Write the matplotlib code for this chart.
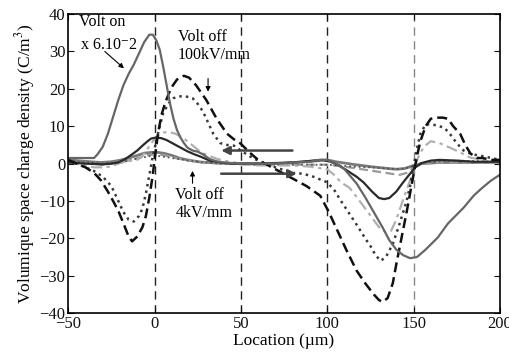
import numpy as np
import matplotlib.pyplot as plt

plt.rcParams['font.family'] = ['Liberation Serif', 'DejaVu Serif']
plt.rcParams['mathtext.fontset'] = 'stix'

# Volt on (scaled x 6.10^-2)
von_x = [-50, -40, -35, -33, -30, -27, -24, -21, -18, -15, -12, -9, -6, -3, -1, 1, 3, 5, 7, 9, 11, 13, 15, 17, 19, 22,
         25, 28, 32, 36, 40, 50, 60, 70, 80, 90, 95, 100, 105, 110, 117, 122, 127, 132, 136, 140, 144, 148, 152,
         157, 164, 170, 179, 185, 190, 195, 200]
von_y = [1.5, 1.5, 1.5, 2.5, 4.5, 8, 12.5, 17, 21, 24, 26.5, 29.5, 32.5, 34.5, 34.5, 33, 30.5, 26, 21, 16, 12, 9, 7,
         5.5, 4.3, 3.5, 3.2, 2.5, 1.2, 0.6, 0.3, 0, 0, 0, 0.3, 0.5, 1, 1, 0, -1.5, -5.3, -9, -13, -17, -20.5, -23,
         -24.5, -25.3, -25, -23, -19.8, -16, -11.8, -8.5, -6.4, -4.5, -3]

# Volt off 100kV/mm, dashed
d1_x = [-50, -45, -40, -35, -31, -27, -24, -21, -18, -15, -13, -10, -7, -5, -3, -1, 0, 2, 4, 6, 8, 10, 13, 17, 20,
        24, 30, 36, 42, 46, 50, 55, 60, 70, 80, 88, 96, 101, 106, 111, 117, 122, 127, 130, 132, 135, 138, 140, 143,
        146, 148, 150, 152, 154, 157, 160, 163, 167, 170, 173, 177, 180, 183, 187, 190, 195, 200]
d1_y = [1, 0, -1, -2.5, -4.5, -7.5, -10, -12.6, -16, -19.5, -20.8, -19.5, -17, -14, -9, -3, 1, 8, 13, 16, 18.5, 20.5,
        22.5, 23.5, 23, 21, 17, 12, 8, 6.5, 5.3, 3, 1, -1.5, -4, -6, -8.6, -13, -18, -23, -28.6, -32, -35, -36.5,
        -37, -36, -32, -27, -20, -13, -8, -3, 2, 6, 10, 12, 12.3, 12.3, 12, 10, 8, 5, 2.7, 1.5, 1.5, 1, 1]

# dotted
d2_x = [-50, -45, -40, -35, -30, -25, -21, -18, -15, -12, -9, -7, -5, -3, -1, 1, 3, 5, 8, 11, 14, 18, 22, 25, 28,
        31, 34, 38, 42, 46, 50, 55, 60, 70, 80, 86, 92, 100, 104, 108, 113, 118, 122, 125, 128, 131, 134, 138, 142,
        146, 148, 150, 152, 154, 157, 160, 164, 168, 171, 175, 179, 184, 190, 195, 200]
d2_y = [0.5, 0, -1, -2, -3.5, -6, -10, -13, -15, -15.5, -14, -12, -8, -3, 2, 6, 10, 13.5, 16, 17.5, 18, 18, 17.5, 16,
        14, 11, 8, 5.5, 5, 4.8, 3.5, 2, 0.8, -1, -2.5, -2.7, -3.5, -5, -7, -10, -13.5, -17, -20, -22, -24.5, -26,
        -25, -21.5, -16, -10, -6, -1, 4, 8, 10.5, 10.5, 10.2, 9.5, 8, 5.5, 3.5, 2.5, 2, 1.5, 1]

# light dash-dot
d3_x = [-50, -45, -40, -35, -30, -25, -21, -17, -13, -10, -7, -4, -1, 2, 5, 8, 12, 16, 19, 23, 27, 32, 36, 40, 50,
        60, 70, 80, 90, 100, 104, 108, 113, 118, 122, 126, 130, 134, 137, 140, 143, 146, 148, 150, 153, 156, 160,
        165, 171, 177, 183, 190, 200]
d3_y = [0.5, 0, -0.5, -1, -1, -0.8, 0, 0.5, 0.8, 1, 2, 4, 6, 7.5, 8.3, 8.5, 8, 7, 6, 4.5, 3, 2, 1.3, 0.8, 0, -0.5,
        -0.5, -0.5, -0.8, -1.5, -3, -5, -6.5, -9.5, -12, -14.5, -17, -18.4, -18, -15, -11, -7, -4.5, -1.5, 2, 4.5,
        6, 5.5, 4.3, 3, 1.6, 1, 0.5]

# dark solid
d4_x = [-50, -40, -30, -25, -21, -17, -13, -10, -7, -4, -2, 1, 4, 7, 11, 15, 19, 23, 27, 32, 38, 45, 55, 65, 75,
        85, 92, 97, 102, 107, 112, 117, 121, 126, 130, 133, 136, 140, 144, 148, 151, 155, 160, 165, 175, 185, 200]
d4_y = [0.3, 0, -0.2, 0, 0.3, 1.2, 2.5, 3.5, 4.8, 6, 6.7, 7, 6.8, 6.3, 5.3, 4.3, 3.3, 2.5, 1.8, 0.8, 0.3, 0, 0, 0,
        0.2, 0.5, 0.8, 1, 0.5, -0.5, -2, -3.5, -5, -7.5, -9.2, -9.5, -9.2, -7.5, -5, -2.7, -1, 0.2, 0.8, 1, 0.8,
        0.5, 0.5]

# Volt off 4kV/mm group
s1_x = [-50, -40, -31, -25, -20, -15, -10, -6, -2, 2, 6, 10, 15, 20, 27, 35, 45, 60, 80, 95, 100, 105, 115, 125, 135,
        140, 145, 150, 155, 165, 180, 200]
s1_y = [1, 0.6, 0.3, 0.5, 0.9, 1.5, 2.2, 2.8, 3, 3, 2.7, 2.2, 1.4, 0.9, 0.4, 0.2, 0, 0, 0.2, 0.8, 1, 0.5, -0.2, -0.8,
        -1.3, -1.5, -1.3, -0.5, 0, 0.3, 0.3, 0.3]
s2_x = [-50, -40, -30, -20, -12, -5, 0, 5, 12, 20, 30, 40, 50, 60, 80, 100, 110, 120, 130, 137, 142, 146, 150, 155,
        165, 180, 200]
s2_y = [0.5, 0.2, -0.3, 0.3, 1.2, 2.2, 2.5, 2.3, 1.5, 0.8, 0.2, 0, -0.2, -0.3, -0.3, -0.3, -0.8, -1.5, -2.2, -2.7,
        -3, -2.5, -1, 0, 0.3, 0.3, 0.2]
s3_x = [-50, -40, -30, -20, -10, -3, 3, 10, 20, 30, 40, 55, 70, 85, 100, 115, 125, 135, 142, 148, 152, 160, 175, 200]
s3_y = [0.8, 0.3, 0, 0.3, 1.3, 2, 2, 1.5, 0.8, 0.3, 0, -0.2, -0.3, -0.3, -0.3, -0.8, -1, -1.3, -1.5, -1, 0, 0.5,
        0.8, 0.5]

vlines = [0, 50, 100, 150]
vcols = ['#222222', '#222222', '#222222', '#888888']

fig = plt.figure(figsize=(5.09, 3.53), dpi=100)
ax = fig.add_axes([0.134, 0.113, 0.848, 0.847])

for xv, c in zip(vlines, vcols):
    ax.axvline(xv, color=c, lw=1, dashes=(6, 4), zorder=1)

ax.plot(s1_x, s1_y, color='#7a7a7a', lw=2.0)
ax.plot(s2_x, s2_y, color='#9a9a9a', lw=1.6, dashes=(4, 2))
ax.plot(s3_x, s3_y, color='#555555', lw=1.3, ls=':')
ax.plot(d3_x, d3_y, color='#b0b0b0', lw=1.6, dashes=(5, 2, 1.5, 2))
ax.plot(d4_x, d4_y, color='#2a2a2a', lw=1.6)
ax.plot(d2_x, d2_y, color='#3a3a3a', lw=1.8, ls=':')
ax.plot(d1_x, d1_y, color='#111111', lw=1.8, dashes=(4, 2))
ax.plot(von_x, von_y, color='#666666', lw=1.6)

ax.set_xlim(-50, 200)
ax.set_ylim(-40, 40)
ax.set_xticks([-50, 0, 50, 100, 150, 200])
ax.set_yticks(np.arange(-40, 41, 10))
ax.tick_params(direction='in', top=True, right=True, length=4, labelsize=12, colors='#111111', pad=2)
for s in ax.spines.values():
    s.set_linewidth(1.2)

ax.set_xlabel('Location (µm)', fontsize=12.5, labelpad=1)
ax.set_ylabel('Volumique space charge density (C/m$^3$)', fontsize=12.5, labelpad=2)

ax.text(-43.5, 37.8, 'Volt on', fontsize=11.5, va='center')
ax.text(-43, 31.8, 'x 6.10$^{-}$2', fontsize=11.5, va='center')
ax.annotate('', xy=(-16.5, 25), xytext=(-30, 30.5),
            arrowprops=dict(arrowstyle='-|>', color='black', lw=0.8, mutation_scale=7))

ax.text(13.5, 31.5, 'Volt off\n100kV/mm', fontsize=11.5, va='center', linespacing=1.15)
ax.annotate('', xy=(31, 18.5), xytext=(31, 23.5),
            arrowprops=dict(arrowstyle='-|>', color='black', lw=0.8, mutation_scale=7))

ax.text(12, -10.8, 'Volt off\n4kV/mm', fontsize=11.5, va='center', linespacing=1.1)
ax.annotate('', xy=(22, -1.2), xytext=(22, -6),
            arrowprops=dict(arrowstyle='-|>', color='black', lw=0.8, mutation_scale=7))

ax.annotate('', xy=(37, 3.5), xytext=(81.5, 3.5),
            arrowprops=dict(arrowstyle='-|>', color='#444444', lw=1.8, mutation_scale=12))
ax.annotate('', xy=(84, -2.7), xytext=(37, -2.7),
            arrowprops=dict(arrowstyle='-|>', color='#444444', lw=1.8, mutation_scale=12))

fig.savefig('out.png', dpi=100)
